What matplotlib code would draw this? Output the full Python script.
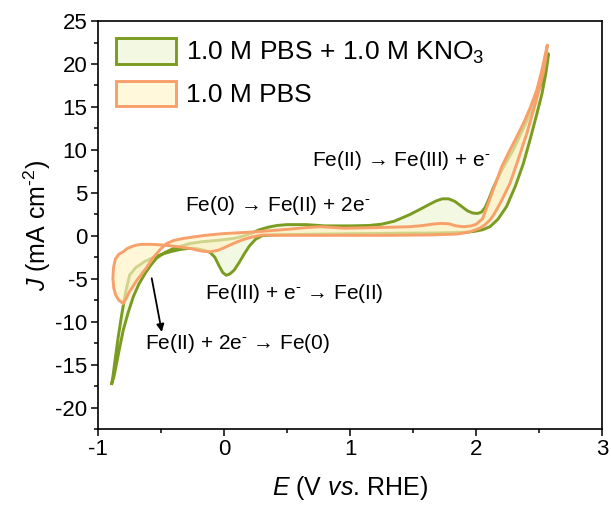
import matplotlib
matplotlib.use("Agg")
import matplotlib.pyplot as plt
from matplotlib.patches import Patch
from matplotlib.ticker import MultipleLocator

plt.rcParams["font.family"] = ["Liberation Sans", "DejaVu Sans"]
plt.rcParams["mathtext.fontset"] = "custom"
plt.rcParams["mathtext.rm"] = "Liberation Sans"
plt.rcParams["mathtext.it"] = "Liberation Sans:italic"
plt.rcParams["axes.unicode_minus"] = False

# CV loop, 1.0 M PBS + 1.0 M KNO3 (anodic sweep, then cathodic sweep back)
kno3_E = [-0.891, -0.875, -0.852, -0.825, -0.80, -0.76, -0.72, -0.675, -0.627, -0.58,
          -0.535, -0.47, -0.40, -0.33, -0.27, -0.18, -0.10, 0.0, 0.08, 0.15,
          0.22, 0.28, 0.35, 0.42, 0.50, 0.65, 0.80, 1.00, 1.15, 1.25,
          1.35, 1.47, 1.55, 1.62, 1.68, 1.73, 1.78, 1.83, 1.88, 1.93,
          1.97, 2.01, 2.04, 2.07, 2.10, 2.135, 2.20, 2.293, 2.37, 2.45,
          2.51, 2.545, 2.571,
          2.568, 2.55, 2.52, 2.48, 2.43, 2.373, 2.31, 2.24, 2.17, 2.108,
          2.05, 1.98, 1.90, 1.70, 1.40, 1.10, 0.80, 0.55, 0.40, 0.30,
          0.25, 0.20, 0.16, 0.12, 0.08, 0.045, 0.017, -0.01, -0.04, -0.074,
          -0.11, -0.154, -0.22, -0.286, -0.35, -0.41, -0.471, -0.55, -0.63, -0.70,
          -0.749, -0.78, -0.81, -0.84, -0.865, -0.88, -0.891]
kno3_J = [-17.2, -16.5, -14.8, -12.8, -11.0, -8.9, -7.1, -5.6, -4.4, -3.4,
          -2.6, -1.95, -1.47, -1.15, -0.9, -0.7, -0.6, -0.45, -0.3, -0.05,
          0.3, 0.7, 1.0, 1.2, 1.3, 1.3, 1.15, 1.15, 1.2, 1.35,
          1.7, 2.45, 3.05, 3.6, 4.05, 4.3, 4.3, 4.0, 3.45, 2.9,
          2.65, 2.6, 2.75, 3.3, 4.3, 5.6, 7.6, 10.0, 12.4, 15.0,
          17.6, 19.6, 21.2,
          20.6, 18.8, 16.5, 14.2, 11.4, 8.4, 5.8, 3.4, 1.9, 1.05,
          0.7, 0.5, 0.4, 0.33, 0.3, 0.25, 0.2, 0.15, 0.1, 0.0,
          -0.4, -1.2, -2.1, -3.1, -4.0, -4.45, -4.6, -4.3, -3.5, -2.5,
          -1.95, -1.7, -1.5, -1.47, -1.6, -1.8, -2.05, -2.45, -3.0, -3.7,
          -4.57, -6.5, -9.0, -11.8, -14.5, -16.2, -17.2]

# CV loop, 1.0 M PBS
pbs_E = [-0.802, -0.78, -0.75, -0.69, -0.62, -0.56, -0.50, -0.455, -0.40, -0.32,
         -0.15, -0.006, 0.26, 0.50, 0.65, 0.76, 0.85, 0.945, 1.20, 1.47,
         1.58, 1.65, 1.72, 1.78, 1.84, 1.90, 1.96, 2.00, 2.05, 2.10,
         2.15, 2.20, 2.26, 2.32, 2.38, 2.43, 2.48, 2.52, 2.563,
         2.55, 2.53, 2.47, 2.40, 2.33, 2.267, 2.19, 2.14, 2.108, 2.07,
         2.03, 1.95, 1.85, 1.65, 1.30, 0.90, 0.50, 0.30, 0.22, 0.15,
         0.09, 0.047, 0.00, -0.05, -0.11, -0.17, -0.22, -0.27, -0.38, -0.482,
         -0.57, -0.657, -0.70, -0.736, -0.77, -0.80, -0.835, -0.862, -0.877, -0.882,
         -0.875, -0.86, -0.835, -0.802]
pbs_J = [-7.86, -7.4, -6.5, -5.15, -3.8, -2.5, -1.5, -0.9, -0.55, -0.3,
         0.05, 0.25, 0.47, 0.75, 0.95, 1.05, 0.98, 0.88, 0.95, 1.05,
         1.2, 1.35, 1.44, 1.4, 1.15, 1.05, 1.15, 1.35, 2.0, 4.0,
         6.0, 8.0, 9.8, 11.5, 13.3, 15.0, 17.0, 19.3, 22.2,
         20.6, 18.9, 15.5, 11.9, 8.8, 6.1, 3.8, 2.5, 1.83, 1.3,
         0.9, 0.45, 0.2, 0.1, 0.05, 0.05, 0.05, 0.08, -0.15, -0.45,
         -0.8, -1.08, -1.4, -1.7, -1.86, -1.8, -1.65, -1.47, -1.25, -1.08,
         -1.0, -1.0, -1.1, -1.28, -1.5, -1.86, -2.15, -2.7, -3.7, -5.0,
         -6.1, -6.9, -7.5, -7.86]

labels = ["1.0 M PBS + 1.0 M KNO$_3$", "1.0 M PBS"]

notes = ["Fe(II) \u2192 Fe(III) + e$^{\\text{-}}$",
         "Fe(0) \u2192 Fe(II) + 2e$^{\\text{-}}$",
         "Fe(III) + e$^{\\text{-}}$ \u2192 Fe(II)",
         "Fe(II) + 2e$^{\\text{-}}$ \u2192 Fe(0)"]
note_xy = [(0.70, 8.8), (-0.31, 3.55), (-0.15, -6.7), (-0.63, -12.5)]

green = "#7A9C20"
green_fill = "#F2F8E1"
orange = "#F8A06A"
orange_fill = "#FFF3C4"

fig = plt.figure(figsize=(6.11, 5.13), dpi=100)
ax = fig.add_axes([0.1604, 0.1637, 0.8256, 0.7953])

ax.fill(kno3_E, kno3_J, color=green_fill, lw=0, zorder=1)
ax.plot(kno3_E, kno3_J, color=green, lw=2.1, zorder=2, solid_joinstyle="round")
ax.fill(pbs_E, pbs_J, color=orange_fill, alpha=0.65, lw=0, zorder=3)
ax.plot(pbs_E, pbs_J, color=orange, lw=2.1, zorder=4, solid_joinstyle="round")

for txt, (x, y) in zip(notes, note_xy):
    ax.text(x, y, txt, fontsize=15, ha="left", va="center", zorder=5)

ax.annotate("", xy=(-0.494, -11.2), xytext=(-0.574, -4.95),
            arrowprops=dict(arrowstyle="-|>", color="black", lw=1.3,
                            mutation_scale=11, shrinkA=0, shrinkB=0), zorder=5)

ax.set_xlim(-1, 3)
ax.set_ylim(-22.5, 25)
ax.xaxis.set_major_locator(MultipleLocator(1))
ax.xaxis.set_minor_locator(MultipleLocator(0.5))
ax.yaxis.set_major_locator(MultipleLocator(5))
ax.yaxis.set_minor_locator(MultipleLocator(2.5))
ax.tick_params(which="both", direction="out", top=False, right=False, width=1.1,
               labelsize=16, pad=2.5)
ax.tick_params(which="major", length=5)
ax.tick_params(which="minor", length=3)
for s in ax.spines.values():
    s.set_linewidth(1.2)

ax.set_xlabel("$E$ (V $vs$. RHE)", fontsize=18, labelpad=10)
ax.set_ylabel(r"$J$ (mA cm$^{\text{-}2}$)", fontsize=18, labelpad=2)

handles = [Patch(facecolor=green_fill, edgecolor=green, lw=2.1),
           Patch(facecolor="#FFF8DA", edgecolor=orange, lw=2.1)]
ax.legend(handles, labels, loc="upper left", bbox_to_anchor=(0.035, 0.958),
          frameon=False, fontsize=19, handlelength=2.3, handleheight=1.1,
          labelspacing=0.55, handletextpad=0.35, borderpad=0, borderaxespad=0)

fig.savefig("out.png", dpi=100)
